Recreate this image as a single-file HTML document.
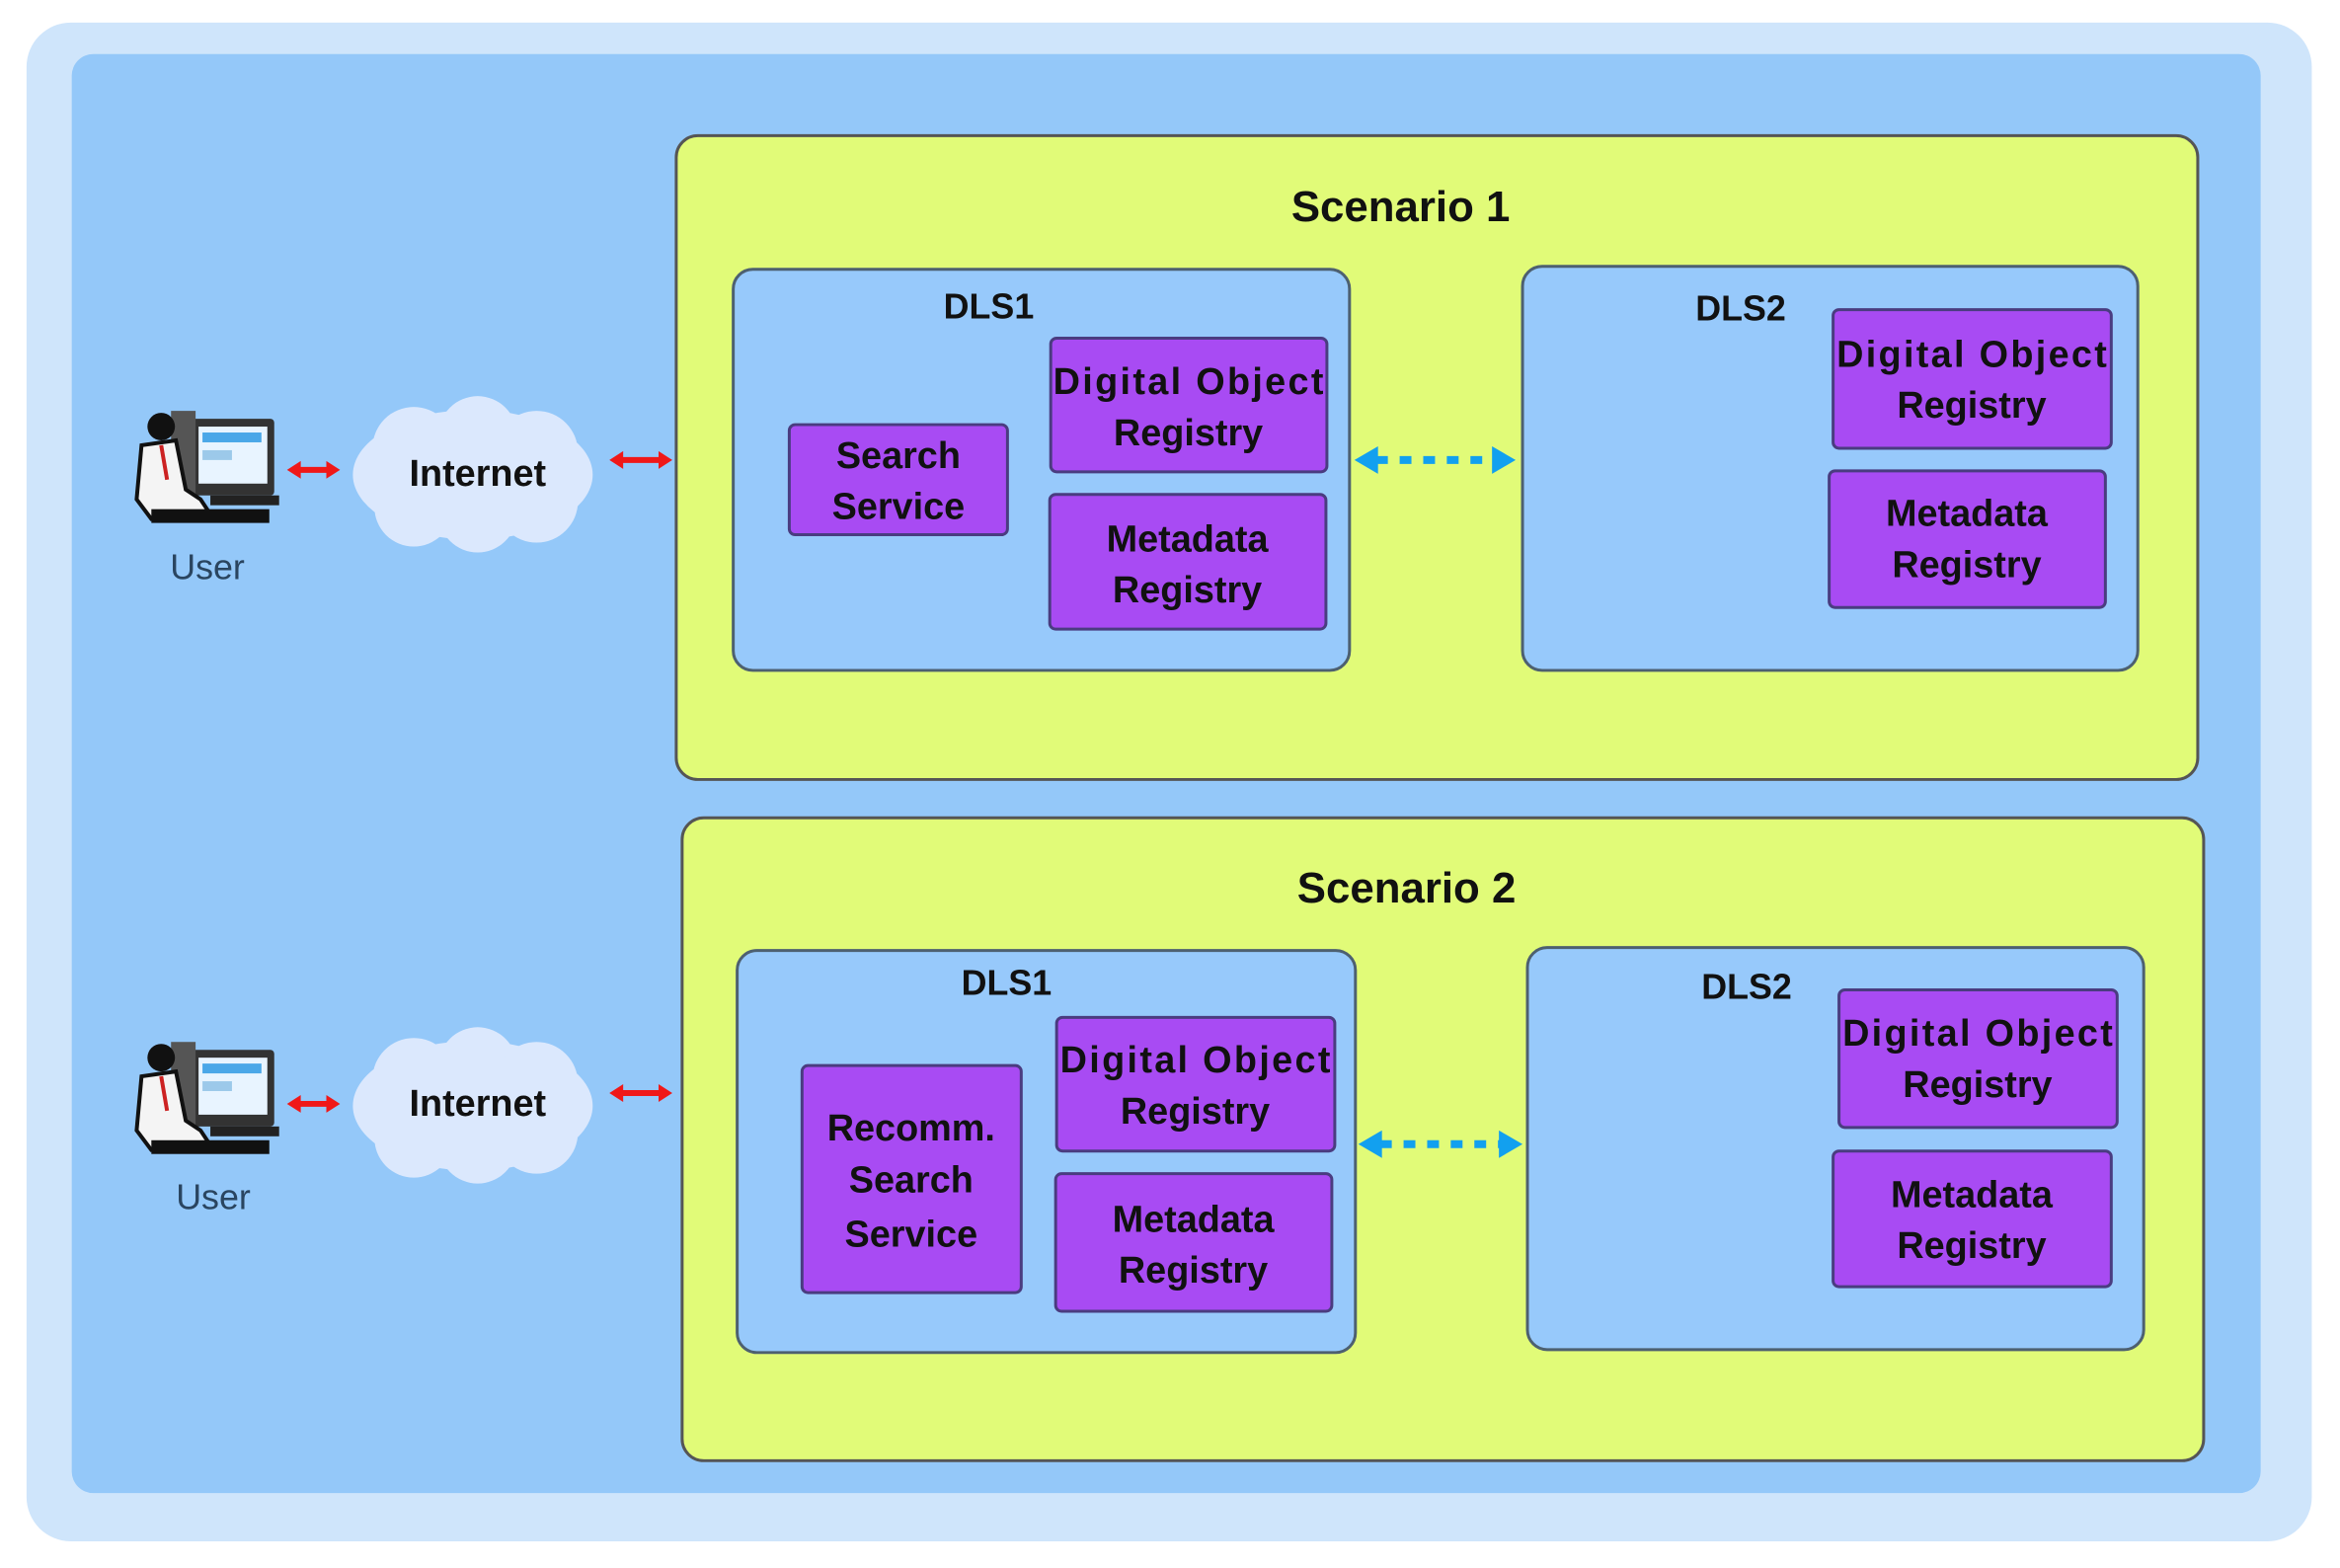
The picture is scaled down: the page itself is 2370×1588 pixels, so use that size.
<!DOCTYPE html>
<html><head><meta charset="utf-8"><style>html,body{margin:0;padding:0;background:#fff}svg{display:block}</style></head>
<body>
<svg width="2370" height="1588" viewBox="0 0 2370 1588" xmlns="http://www.w3.org/2000/svg" font-family="Liberation Sans, sans-serif">
<defs>
<g id="user">
  <rect x="60" y="8" width="85" height="78" fill="#333" rx="4"/>
  <rect x="68" y="16" width="70" height="58" fill="#e8f4ff"/>
  <rect x="72" y="22" width="60" height="10" fill="#4aa7e8"/>
  <rect x="72" y="40" width="30" height="10" fill="#9cc9ea"/>
  <rect x="40" y="0" width="25" height="90" fill="#555"/>
  <circle cx="30" cy="16" r="14" fill="#111"/>
  <path d="M10 35 L45 30 L55 80 L70 90 L80 105 L20 110 L5 90 Z" fill="#f4f4f4" stroke="#111" stroke-width="4"/>
  <path d="M30 35 L36 70" stroke="#c22" stroke-width="4"/>
  <rect x="20" y="100" width="120" height="14" fill="#111"/>
  <rect x="80" y="86" width="70" height="10" fill="#222"/>
</g>
<g id="cloud" fill="#dbe8fd">
  <ellipse cx="135" cy="85" rx="122" ry="66"/>
  <circle cx="75" cy="58" r="42"/><circle cx="140" cy="45" r="40"/><circle cx="200" cy="62" r="42"/>
  <circle cx="75" cy="118" r="40"/><circle cx="140" cy="124" r="40"/><circle cx="200" cy="112" r="42"/>
</g>
</defs>
<g transform="scale(0.9955)">
<rect x="27" y="23" width="2325" height="1545" rx="45" fill="#cfe5fb"/>
<rect x="73" y="55" width="2227" height="1464" rx="22" fill="#94c8f9"/>

<rect x="688" y="138" width="1548" height="655" rx="22" fill="#e1fb78" stroke="#555" stroke-width="3"/>
<text x="1425" y="225" font-size="44" font-weight="bold" text-anchor="middle" fill="#111">Scenario 1</text>
<rect x="746" y="274" width="627" height="408" rx="20" fill="#97c9fb" stroke="#4d6070" stroke-width="3"/>
<text x="1006" y="324" font-size="36" font-weight="bold" text-anchor="middle" fill="#111">DLS1</text>
<rect x="1549" y="271" width="626" height="411" rx="20" fill="#97c9fb" stroke="#4d6070" stroke-width="3"/>
<text x="1771" y="326" font-size="36" font-weight="bold" text-anchor="middle" fill="#111">DLS2</text>

<g fill="#a84bf3" stroke="#4a3c80" stroke-width="3">
<rect x="803" y="432" width="222" height="112" rx="6"/>
<rect x="1069" y="344" width="281" height="136" rx="6"/>
<rect x="1068" y="503" width="281" height="137" rx="6"/>
<rect x="1865" y="315" width="283" height="141" rx="6"/>
<rect x="1861" y="479" width="281" height="139" rx="6"/>
</g>

<g font-size="38" font-weight="bold" text-anchor="middle" fill="#111">
<text x="914" y="476">Search</text><text x="914" y="528">Service</text>
<text x="1209" y="401" textLength="275">Digital Object</text><text x="1209" y="453">Registry</text>
<text x="1208" y="561">Metadata</text><text x="1208" y="613">Registry</text>
<text x="2006" y="373" textLength="275">Digital Object</text><text x="2006" y="425">Registry</text>
<text x="2001" y="535">Metadata</text><text x="2001" y="587">Registry</text>
</g>

<g fill="#12a0ef">
<line x1="1400" y1="468" x2="1520" y2="468" stroke="#12a0ef" stroke-width="8" stroke-dasharray="12 12"/>
<polygon points="1378,468 1402,454 1402,482"/>
<polygon points="1542,468 1518,454 1518,482"/>
</g>

<rect x="694" y="832" width="1548" height="654" rx="22" fill="#e1fb78" stroke="#555" stroke-width="3"/>
<text x="1431" y="918" font-size="44" font-weight="bold" text-anchor="middle" fill="#111">Scenario 2</text>
<rect x="750" y="967" width="629" height="409" rx="20" fill="#97c9fb" stroke="#4d6070" stroke-width="3"/>
<text x="1024" y="1012" font-size="36" font-weight="bold" text-anchor="middle" fill="#111">DLS1</text>
<rect x="1554" y="964" width="627" height="409" rx="20" fill="#97c9fb" stroke="#4d6070" stroke-width="3"/>
<text x="1777" y="1016" font-size="36" font-weight="bold" text-anchor="middle" fill="#111">DLS2</text>

<g fill="#a84bf3" stroke="#4a3c80" stroke-width="3">
<rect x="816" y="1084" width="223" height="231" rx="6"/>
<rect x="1075" y="1035" width="283" height="136" rx="6"/>
<rect x="1074" y="1194" width="281" height="140" rx="6"/>
<rect x="1871" y="1007" width="283" height="140" rx="6"/>
<rect x="1865" y="1171" width="283" height="138" rx="6"/>
</g>
<g font-size="38" font-weight="bold" text-anchor="middle" fill="#111">
<text x="927" y="1160">Recomm.</text><text x="927" y="1213">Search</text><text x="927" y="1268">Service</text>
<text x="1216" y="1091" textLength="275">Digital Object</text><text x="1216" y="1143">Registry</text>
<text x="1214" y="1253">Metadata</text><text x="1214" y="1305">Registry</text>
<text x="2012" y="1064" textLength="275">Digital Object</text><text x="2012" y="1116">Registry</text>
<text x="2006" y="1228">Metadata</text><text x="2006" y="1280">Registry</text>
</g>
<g fill="#12a0ef">
<line x1="1404" y1="1164" x2="1527" y2="1164" stroke="#12a0ef" stroke-width="8" stroke-dasharray="12 12"/>
<polygon points="1382,1164 1406,1150 1406,1178"/>
<polygon points="1549,1164 1525,1150 1525,1178"/>
</g>

<use href="#user" transform="translate(134,418)"/>
<use href="#user" transform="translate(134,1060)"/>
<use href="#cloud" transform="translate(346,398)"/>
<use href="#cloud" transform="translate(346,1040)"/>
<g font-size="38" font-weight="bold" text-anchor="middle" fill="#111">
<text x="486" y="494">Internet</text>
<text x="486" y="1135">Internet</text>
</g>
<g font-size="36" text-anchor="middle" fill="#2a4560">
<text x="211" y="589">User</text>
<text x="217" y="1230">User</text>
</g>
<g fill="#f01818" stroke="#f01818">
<line x1="300" y1="478" x2="340" y2="478" stroke-width="6"/>
<polygon points="292,478 306,469 306,487" stroke="none"/><polygon points="346,478 332,469 332,487" stroke="none"/>
<line x1="628" y1="468" x2="678" y2="468" stroke-width="6"/>
<polygon points="620,468 634,459 634,477" stroke="none"/><polygon points="684,468 670,459 670,477" stroke="none"/>
<line x1="300" y1="1123" x2="340" y2="1123" stroke-width="6"/>
<polygon points="292,1123 306,1114 306,1132" stroke="none"/><polygon points="346,1123 332,1114 332,1132" stroke="none"/>
<line x1="628" y1="1112" x2="678" y2="1112" stroke-width="6"/>
<polygon points="620,1112 634,1103 634,1121" stroke="none"/><polygon points="684,1112 670,1103 670,1121" stroke="none"/>
</g>
</g>
</svg>
</body></html>
